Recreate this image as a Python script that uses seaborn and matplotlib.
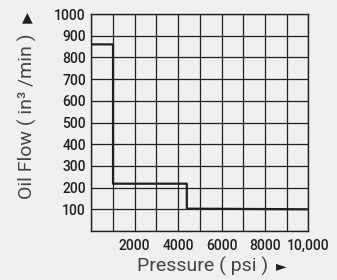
import numpy as np
import pandas as pd
import matplotlib
matplotlib.use("Agg")
import matplotlib.pyplot as plt
import seaborn as sns

# step curve vertices
pressure_psi = [0, 1000, 1000, 4400, 4400, 10000]
oil_flow = [860, 860, 218, 218, 103, 100]

x_ticks = [2000, 4000, 6000, 8000, 10000]
x_tick_labels = ["2000", "4000", "6000", "8000", "10,000"]
y_ticks = [100, 200, 300, 400, 500, 600, 700, 800, 900, 1000]

sns.set_style("white")
plt.rcParams["font.family"] = ["Roboto", "DejaVu Sans"]

bg = "#f0f0f0"
ink = "#231f20"

fig = plt.figure(figsize=(3.37, 2.80), dpi=100, facecolor=bg)
ax = fig.add_axes([0.271, 0.175, 0.644, 0.775])
ax.set_facecolor(bg)

df = pd.DataFrame({"pressure": pressure_psi, "flow": oil_flow})
sns.lineplot(data=df, x="pressure", y="flow", sort=False, estimator=None,
             color=ink, linewidth=1.6, ax=ax, zorder=3)

ax.set_xlim(0, 10000)
ax.set_ylim(0, 1000)
ax.set_xticks(np.arange(0, 10001, 1000))
ax.set_yticks(np.arange(0, 1001, 100))
ax.grid(True, color=ink, linewidth=0.9)
ax.set_axisbelow(True)

ax.set_xticklabels(["" if v not in x_ticks else x_tick_labels[x_ticks.index(v)]
                    for v in range(0, 10001, 1000)])
ax.set_yticklabels(["" if v not in y_ticks else str(v) for v in range(0, 1001, 100)])
ax.tick_params(length=0, labelsize=10, colors=ink, pad=4)
ax.tick_params(axis="x", pad=6)
for lab in ax.get_xticklabels() + ax.get_yticklabels():
    lab.set_fontweight("medium")

for s in ax.spines.values():
    s.set_color(ink)
    s.set_linewidth(1.0)

ax.set_xlabel("")
ax.set_ylabel("")

label_color = "#444444"
fig.text(0.600, 0.05, "Pressure ( psi )", ha="center", va="center",
         fontsize=14, fontweight="normal", color=label_color)
fig.text(0.835, 0.05, "\u25BA", ha="center", va="center",
         fontsize=10, color=ink, family=["DejaVu Sans"])
fig.text(0.08, 0.585, "Oil Flow ( in\u00b3 /min )", ha="center", va="center",
         rotation=90, fontsize=14, fontweight="normal", color=label_color)
fig.text(0.08, 0.94, "\u25B2", ha="center", va="center",
         fontsize=10, color=ink, family=["DejaVu Sans"])

fig.savefig("out.png", dpi=100, facecolor=bg)
